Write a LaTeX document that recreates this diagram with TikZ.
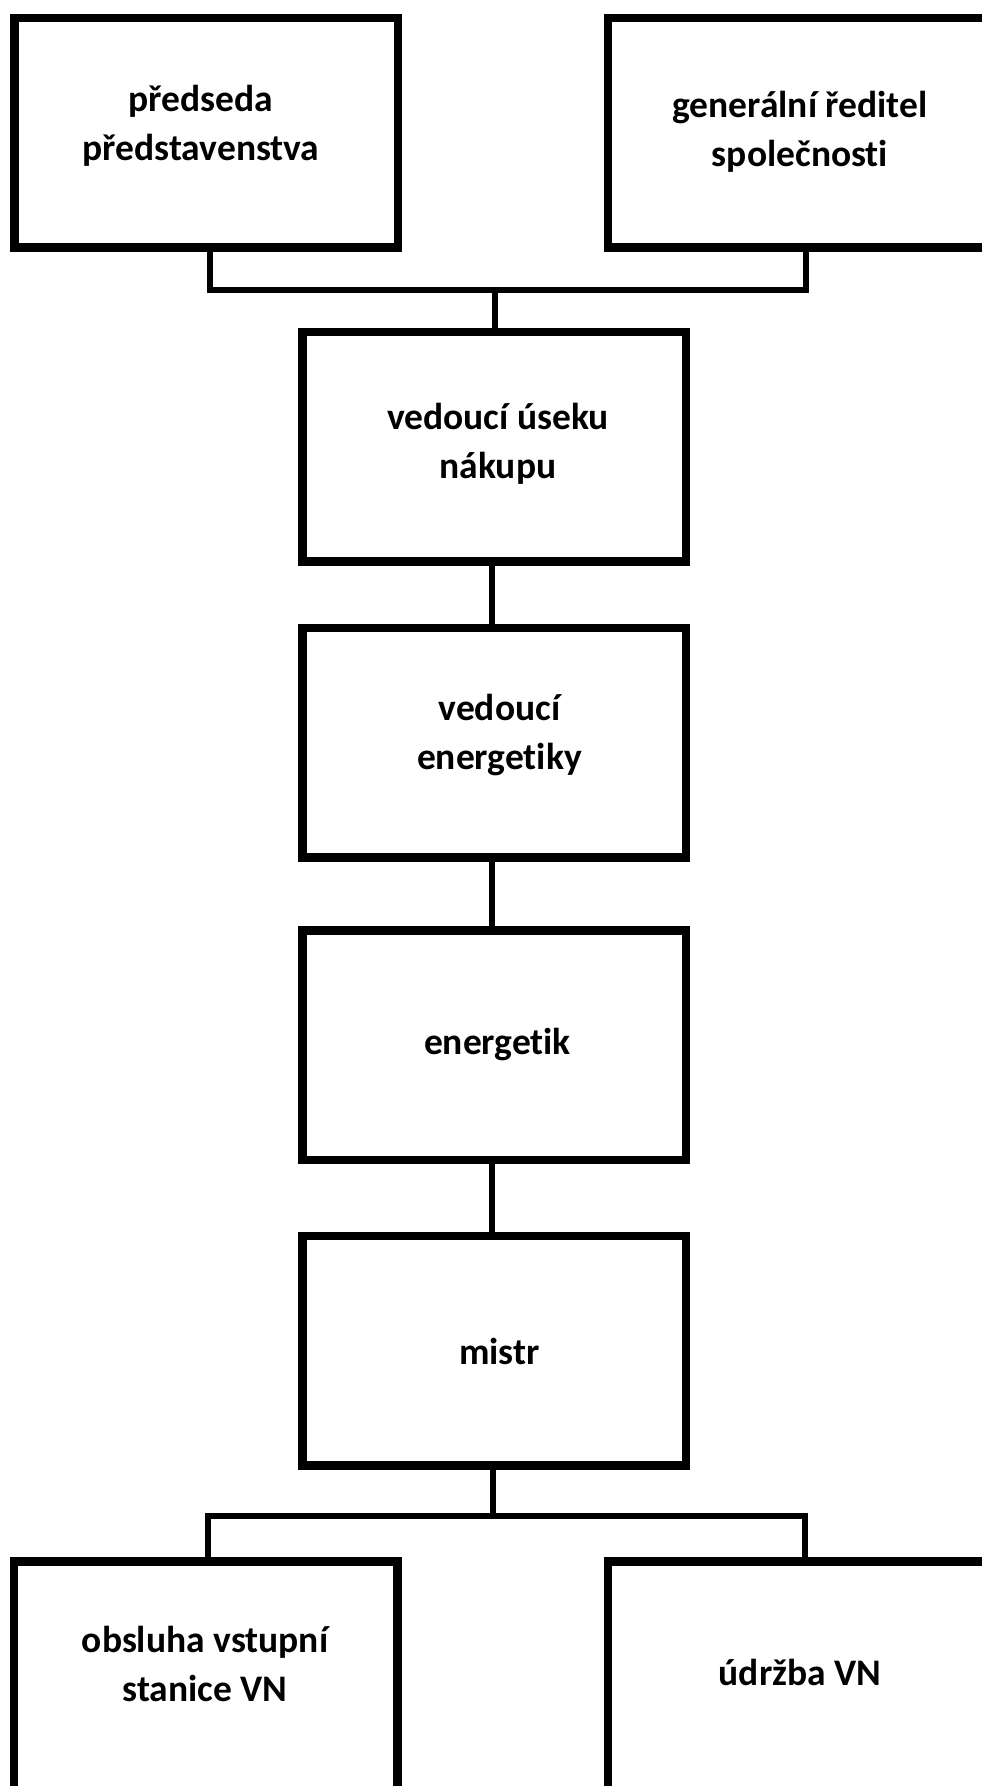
\documentclass[tikz,border=0pt]{standalone}
\usepackage{fontspec}
\setmainfont{Carlito}[Ligatures=NoCommon]
\newcommand{\twolines}[2]{\begin{tabular}[t]{@{}c@{}}#1\\#2\end{tabular}}
\begin{document}
\begin{tikzpicture}[x=1pt,y=-1pt,
  box/.style={draw=black,line width=8.5pt,rectangle,minimum width=383.5pt,minimum height=229.5pt,inner sep=0pt,outer sep=0pt,anchor=north west},
  conn/.style={draw=black,line width=6pt,line join=miter},
  lbl/.style={anchor=base,inner sep=0pt,font=\fontsize{37.5}{49}\selectfont\bfseries}]
\useasboundingbox (0,0) rectangle (982,1786);
\clip (0,0) rectangle (982,1786);
\fill[white] (0,0) rectangle (982,1786);
% junction coordinates
\coordinate (jtl) at (210,290);
\coordinate (jtr) at (806,290);
\coordinate (jt) at (495,290);
\coordinate (jbl) at (208,1515.5);
\coordinate (jbr) at (804.5,1515.5);
\coordinate (jb) at (492.5,1515.5);
% boxes
\node[box] (B1) at (14.5,18) {};
\node[box] (B2) at (608,18) {};
\node[box] (B3) at (302.5,332) {};
\node[box] (B4) at (302.5,628) {};
\node[box] (B5) at (302.5,930.5) {};
\node[box] (B6) at (302.5,1236) {};
\node[box] (B7) at (14,1561.5) {};
\node[box] (B8) at (608,1561.5) {};
% connectors
\draw[conn] (B1.south -| jtl) -- (jtl) -- (jtr) -- (B2.south -| jtr);
\draw[conn] (jt) -- (B3.north -| jt);
\draw[conn] (B3.south -| 492,0) -- (B4.north -| 492,0);
\draw[conn] (B4.south -| 491.5,0) -- (B5.north -| 491.5,0);
\draw[conn] (B5.south -| 491.5,0) -- (B6.north -| 491.5,0);
\draw[conn] (B6.south -| jb) -- (jb);
\draw[conn] (B7.north -| jbl) -- (jbl) -- (jbr) -- (B8.north -| jbr);
% labels
\node[lbl] (t1) at (201,111) {\twolines{předseda}{představenstva}};
\node[lbl] (t2) at (800,117) {\twolines{generální ředitel}{společnosti}};
\node[lbl] (t3) at (498,429) {\twolines{vedoucí úseku}{nákupu}};
\node[lbl] (t4) at (499.5,720) {\twolines{vedoucí}{energetiky}};
\node[lbl] (t5) at (497.5,1054) {energetik};
\node[lbl] (t6) at (499.5,1364) {mistr};
\node[lbl] (t7) at (205,1652) {\twolines{obsluha vstupní}{stanice VN}};
\node[lbl] (t8) at (800,1685) {údržba VN};
\end{tikzpicture}
\end{document}
